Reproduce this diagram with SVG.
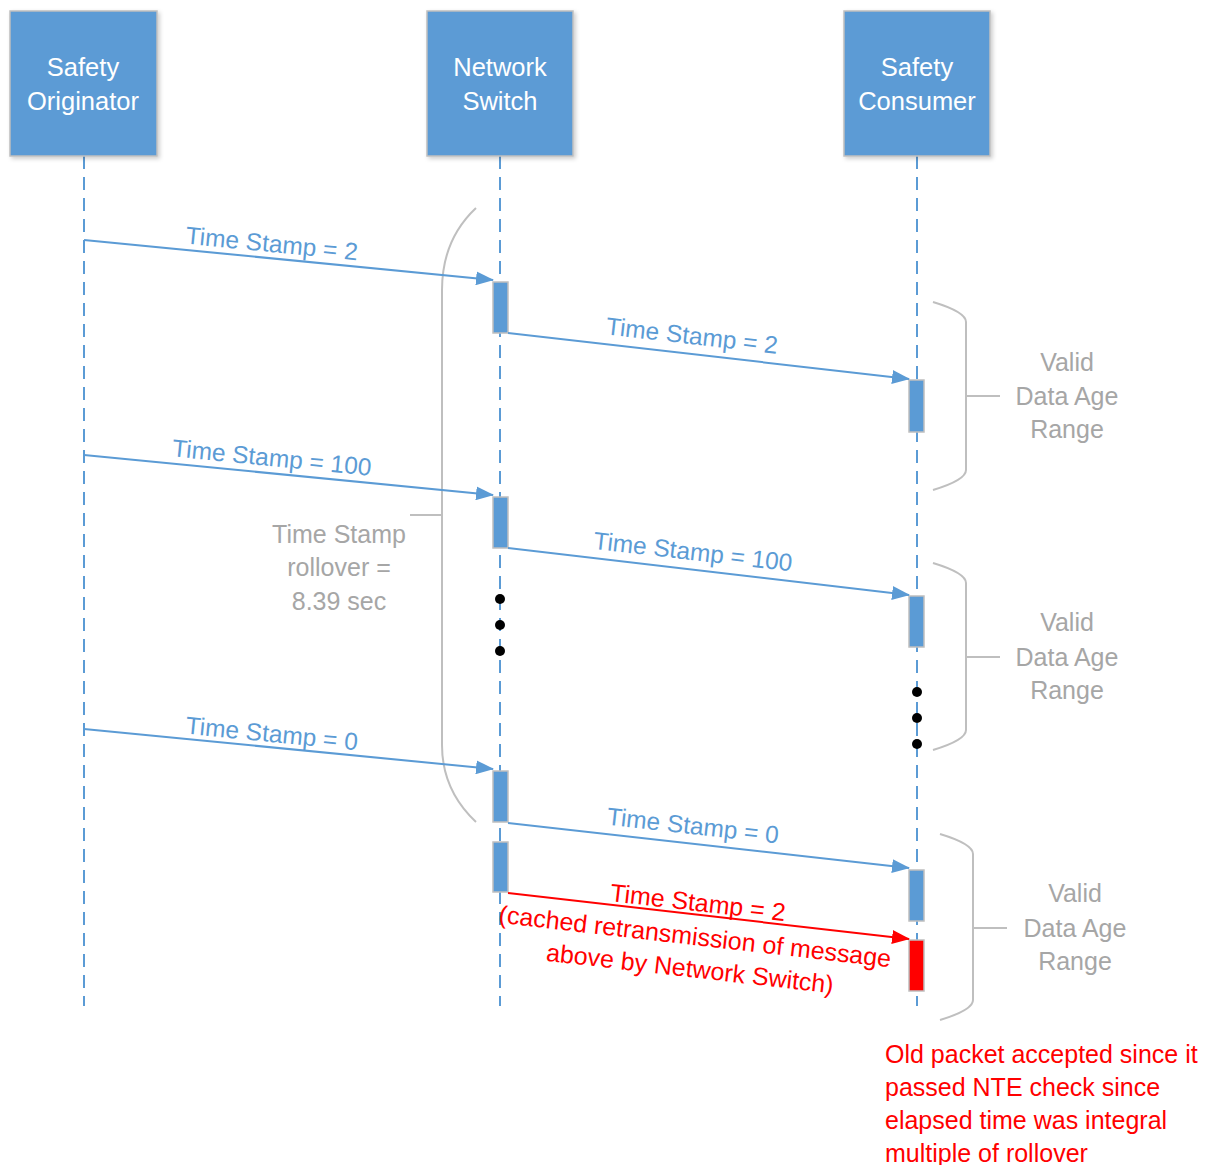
<svg xmlns="http://www.w3.org/2000/svg" width="1207" height="1165" viewBox="0 0 1207 1165">
<defs>
<filter id="sh" x="-10%" y="-10%" width="125%" height="125%"><feDropShadow dx="2" dy="2" stdDeviation="2" flood-color="#000" flood-opacity="0.2"/></filter>
<marker id="ab" markerWidth="18" markerHeight="14" refX="17" refY="7" orient="auto" markerUnits="userSpaceOnUse" viewBox="0 0 18 14"><path d="M0,0 L18,7 L0,14 z" fill="#5B9BD5"/></marker>
<marker id="ar" markerWidth="18" markerHeight="14" refX="17" refY="7" orient="auto" markerUnits="userSpaceOnUse" viewBox="0 0 18 14"><path d="M0,0 L18,7 L0,14 z" fill="#FF0000"/></marker>
<style>
.box{fill:#5B9BD5;stroke:#BFBFBF;stroke-width:1.5;filter:url(#sh)}
.bt{font-family:"Liberation Sans",Arial,sans-serif;font-size:25.5px;fill:#fff;text-anchor:middle}
.life{stroke:#5B9BD5;stroke-width:2;stroke-dasharray:13 8;fill:none}
.act{fill:#5B9BD5;stroke:#BFBFBF;stroke-width:1.5}
.actr{fill:#FF0000;stroke:#BFBFBF;stroke-width:1.5}
.msg{stroke:#5B9BD5;stroke-width:2;fill:none;marker-end:url(#ab)}
.msgr{stroke:#FF0000;stroke-width:2;fill:none;marker-end:url(#ar)}
.lbl{font-family:"Liberation Sans",Arial,sans-serif;font-size:24.5px;fill:#5B9BD5;text-anchor:middle}
.lblr{font-family:"Liberation Sans",Arial,sans-serif;font-size:25px;fill:#FF0000;text-anchor:middle}
.br{stroke:#BFBFBF;stroke-width:2;fill:none}
.gt{font-family:"Liberation Sans",Arial,sans-serif;font-size:25px;fill:#A6A6A6;text-anchor:middle}
.note{font-family:"Liberation Sans",Arial,sans-serif;font-size:25px;fill:#FF0000}
.dot{fill:#000}
</style>
</defs>

<g id="lifelines">
<line class="life" x1="84" y1="156" x2="84" y2="1006"/>
<line class="life" x1="500" y1="156" x2="500" y2="1006"/>
<line class="life" x1="917" y1="156" x2="917" y2="1006"/>
</g>

<g id="node-originator">
<rect class="box" x="10" y="11" width="147" height="145"/>
<text class="bt" x="83" y="76">Safety</text>
<text class="bt" x="83" y="110">Originator</text>
</g>
<g id="node-switch">
<rect class="box" x="427" y="11" width="146" height="145"/>
<text class="bt" x="500" y="76">Network</text>
<text class="bt" x="500" y="110">Switch</text>
</g>
<g id="node-consumer">
<rect class="box" x="844" y="11" width="146" height="145"/>
<text class="bt" x="917" y="76">Safety</text>
<text class="bt" x="917" y="110">Consumer</text>
</g>

<g id="braces">
<path class="br" d="M476,208 Q442,240 442,290 L442,745 Q442,790 476,822"/>
<line class="br" x1="442" y1="515" x2="410" y2="515"/>
<path class="br" d="M933,302 Q966,312 966,322 L966,470 Q966,480 933,490"/>
<line class="br" x1="966" y1="396" x2="1000" y2="396"/>
<path class="br" d="M933,563 Q966,573 966,583 L966,730 Q966,740 933,750"/>
<line class="br" x1="966" y1="657" x2="1000" y2="657"/>
<path class="br" d="M940,834 Q973,844 973,854 L973,1000 Q973,1010 940,1020"/>
<line class="br" x1="973" y1="928" x2="1007" y2="928"/>
</g>

<g id="brace-labels">
<text class="gt" x="339" y="543">Time Stamp</text>
<text class="gt" x="339" y="576">rollover =</text>
<text class="gt" x="339" y="610">8.39 sec</text>
<text class="gt" x="1067" y="371">Valid</text>
<text class="gt" x="1067" y="405">Data Age</text>
<text class="gt" x="1067" y="438">Range</text>
<text class="gt" x="1067" y="631">Valid</text>
<text class="gt" x="1067" y="666">Data Age</text>
<text class="gt" x="1067" y="699">Range</text>
<text class="gt" x="1075" y="902">Valid</text>
<text class="gt" x="1075" y="937">Data Age</text>
<text class="gt" x="1075" y="970">Range</text>
</g>

<g id="activations">
<rect class="act" x="493" y="282" width="15" height="51"/>
<rect class="act" x="493" y="497" width="15" height="51"/>
<rect class="act" x="493" y="771" width="15" height="51"/>
<rect class="act" x="493" y="842" width="15" height="50"/>
<rect class="act" x="909" y="380" width="15" height="52"/>
<rect class="act" x="909" y="596" width="15" height="51"/>
<rect class="act" x="909" y="870" width="15" height="51"/>
<rect class="actr" x="909" y="940" width="15" height="51"/>
</g>

<g id="connectors">
<line class="msg" x1="84" y1="240" x2="493" y2="280"/>
<line class="msg" x1="508" y1="333" x2="909" y2="379"/>
<line class="msg" x1="84" y1="455" x2="493" y2="495"/>
<line class="msg" x1="508" y1="548" x2="909" y2="595"/>
<line class="msg" x1="84" y1="729" x2="493" y2="769"/>
<line class="msg" x1="508" y1="823" x2="909" y2="868"/>
<line class="msgr" x1="508" y1="893" x2="909" y2="939"/>
</g>

<g id="labels">
<text class="lbl" transform="translate(271,252) rotate(5.6)">Time Stamp = 2</text>
<text class="lbl" transform="translate(691,344) rotate(6.5)">Time Stamp = 2</text>
<text class="lbl" transform="translate(271,466) rotate(5.6)">Time Stamp = 100</text>
<text class="lbl" transform="translate(692,560) rotate(6.5)">Time Stamp = 100</text>
<text class="lbl" transform="translate(271,742) rotate(5.6)">Time Stamp = 0</text>
<text class="lbl" transform="translate(692,834) rotate(6.3)">Time Stamp = 0</text>
<text class="lblr" transform="translate(697,911) rotate(6.5)">Time Stamp = 2</text>
<text class="lblr" transform="translate(694,945) rotate(6.5)">(cached  retransmission of message</text>
<text class="lblr" transform="translate(689,977) rotate(6.5)">above by Network Switch)</text>
</g>

<g id="dots">
<circle class="dot" cx="500" cy="599" r="5"/>
<circle class="dot" cx="500" cy="625" r="5"/>
<circle class="dot" cx="500" cy="651" r="5"/>
<circle class="dot" cx="917" cy="692" r="5"/>
<circle class="dot" cx="917" cy="718" r="5"/>
<circle class="dot" cx="917" cy="744" r="5"/>
</g>

<g id="note">
<text class="note" x="885" y="1063">Old packet accepted since it</text>
<text class="note" x="885" y="1096">passed NTE check since</text>
<text class="note" x="885" y="1129">elapsed time was integral</text>
<text class="note" x="885" y="1162">multiple of rollover</text>
</g>
</svg>
